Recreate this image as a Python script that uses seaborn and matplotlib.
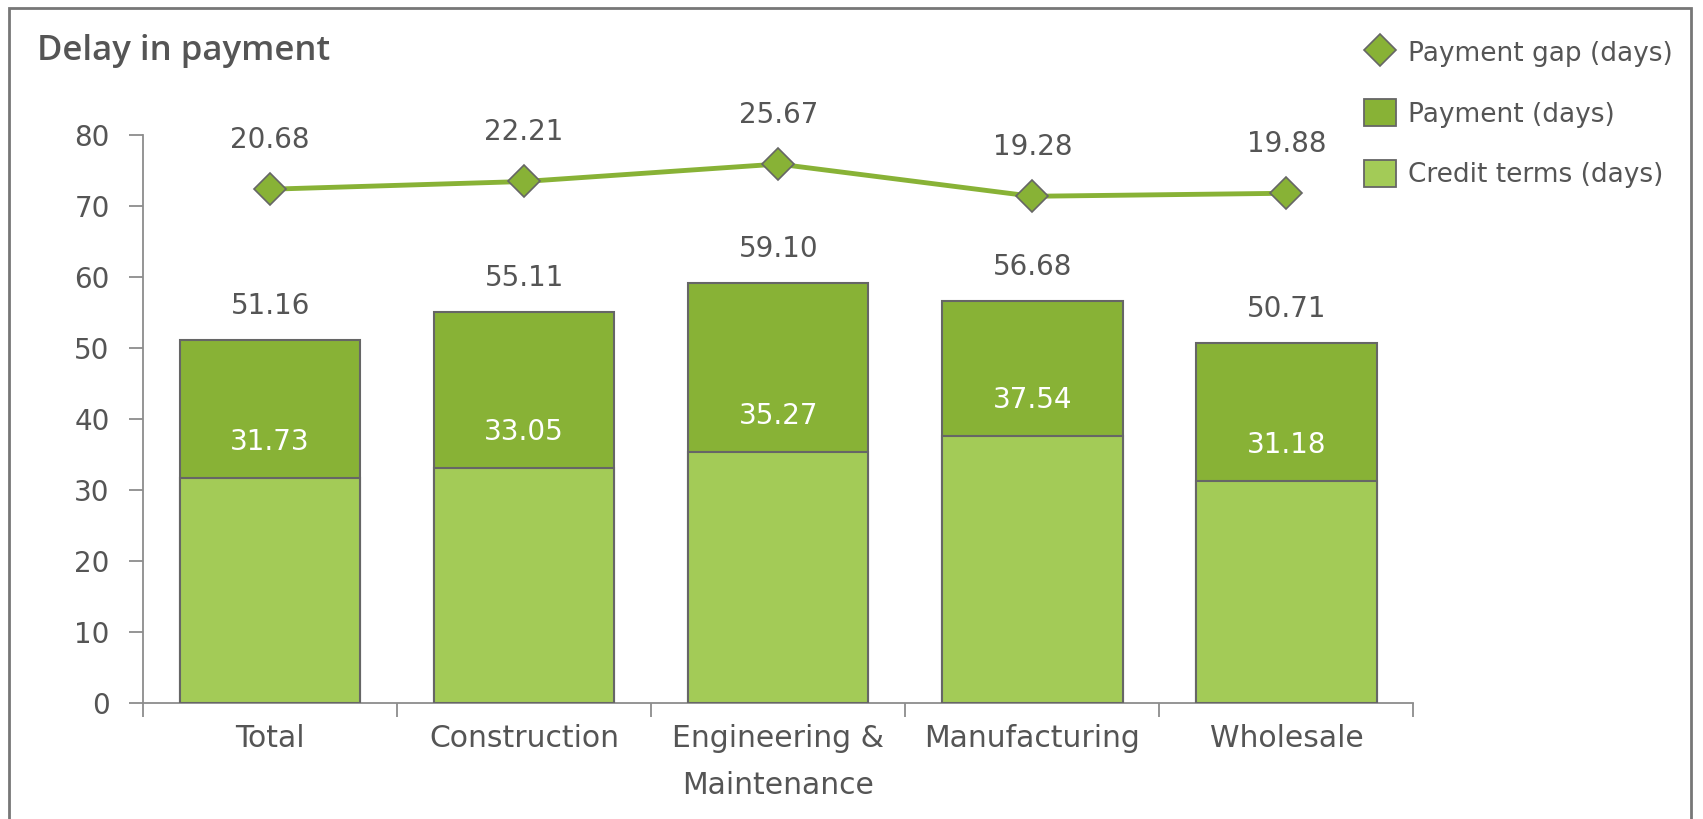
import matplotlib
matplotlib.use("Agg")
import matplotlib.pyplot as plt
from matplotlib.patches import Rectangle
from matplotlib.lines import Line2D
from matplotlib.patches import Patch
import seaborn as sns
import pandas as pd

categories = ["Total", "Construction", "Engineering &\nMaintenance", "Manufacturing", "Wholesale"]
credit_terms = [31.73, 33.05, 35.27, 37.54, 31.18]
payment_days = [51.16, 55.11, 59.10, 56.68, 50.71]
payment_gap = [20.68, 22.21, 25.67, 19.28, 19.88]
y_ticks = [0, 10, 20, 30, 40, 50, 60, 70, 80]

DARK = "#88B236"
LIGHT = "#A3CB57"
EDGE = "#666666"
TEXT = "#555555"
AXIS = "#8C8C8C"
FS = 20

sns.set_theme(style="white")
plt.rcParams["font.family"] = ["DejaVu Sans"]

df = pd.DataFrame({"category": categories, "credit": credit_terms,
                   "payment": payment_days, "gap": payment_gap})

fig = plt.figure(figsize=(17.03, 8.19), dpi=100)
ax = fig.add_axes([0.084, 0.142, 0.746, 0.693])

# Stacked bars: payment total behind, credit terms in front
sns.barplot(data=df, x="category", y="payment", color=DARK, width=0.71,
            edgecolor=EDGE, linewidth=1.5, saturation=1, ax=ax, zorder=2)
sns.barplot(data=df, x="category", y="credit", color=LIGHT, width=0.71,
            edgecolor=EDGE, linewidth=1.5, saturation=1, ax=ax, zorder=3)

ax.set_xlim(-0.5, len(categories) - 0.5)
ax.set_ylim(0, 80)
ax.set_yticks(y_ticks)
ax.set_xlabel("")
ax.set_ylabel("")

for s in ["top", "right"]:
    ax.spines[s].set_visible(False)
for s in ["left", "bottom"]:
    ax.spines[s].set_color(AXIS)
    ax.spines[s].set_linewidth(1.3)

ax.tick_params(axis="y", length=10, width=1.3, color=AXIS, labelsize=FS,
               labelcolor=TEXT, pad=14, left=True)
ax.tick_params(axis="x", which="major", length=0, labelsize=21.5,
               labelcolor=TEXT, pad=15)
ax.set_xticks([i - 0.5 for i in range(len(categories) + 1)], minor=True)
ax.tick_params(axis="x", which="minor", length=10, width=1.3, color=AXIS, bottom=True)
for lab in ax.get_xticklabels():
    lab.set_linespacing(1.8)

# Value labels on bars
for i, (c, p) in enumerate(zip(credit_terms, payment_days)):
    ax.annotate(f"{p:.2f}", (i, p), xytext=(0, 34), textcoords="offset pixels",
                ha="center", va="center", fontsize=FS, color=TEXT)
    ax.annotate(f"{c:.2f}", (i, c), xytext=(0, 36), textcoords="offset pixels",
                ha="center", va="center", fontsize=FS, color="white")

# Payment gap on a hidden secondary scale
ax2 = ax.twinx()
sns.pointplot(data=df, x="category", y="gap", color=DARK, marker="D",
              markersize=16, linewidth=3.5, errorbar=None, ax=ax2,
              markeredgecolor=EDGE, markeredgewidth=1.2, zorder=4)
ax2.set_ylim(-81.1, 31.4)
ax2.set_xlim(-0.5, len(categories) - 0.5)
ax2.axis("off")
for i, g in enumerate(payment_gap):
    ax2.annotate(f"{g:.2f}", (i, g), xytext=(0, 49), textcoords="offset pixels",
                 ha="center", va="center", fontsize=FS, color=TEXT)

# Title
fig.text(0.022, 0.938, "Delay in payment", fontsize=25, color=TEXT,
         family=["Open Sans", "DejaVu Sans"], fontweight="semibold",
         ha="left", va="center")

# Legend
handles = [
    Line2D([], [], linestyle="none", marker="D", markersize=16,
           markerfacecolor=DARK, markeredgecolor=EDGE, markeredgewidth=1.2),
    Patch(facecolor=DARK, edgecolor=EDGE, linewidth=1.3),
    Patch(facecolor=LIGHT, edgecolor=EDGE, linewidth=1.3),
]
labels = ["Payment gap (days)", "Payment (days)", "Credit terms (days)"]
fig.legend(handles, labels, loc="upper left", bbox_to_anchor=(0.787, 0.982),
           frameon=False, fontsize=19, labelcolor=TEXT, handlelength=1.2,
           handleheight=1.2, handletextpad=0.45, labelspacing=1.22)

# Outer frame
fig.add_artist(Rectangle((9 / 1703, -0.05), (1691 - 9) / 1703, 1.05 - 8 / 819,
                         transform=fig.transFigure, fill=False,
                         edgecolor="#777777", linewidth=2))

fig.savefig("out.png", dpi=100)
